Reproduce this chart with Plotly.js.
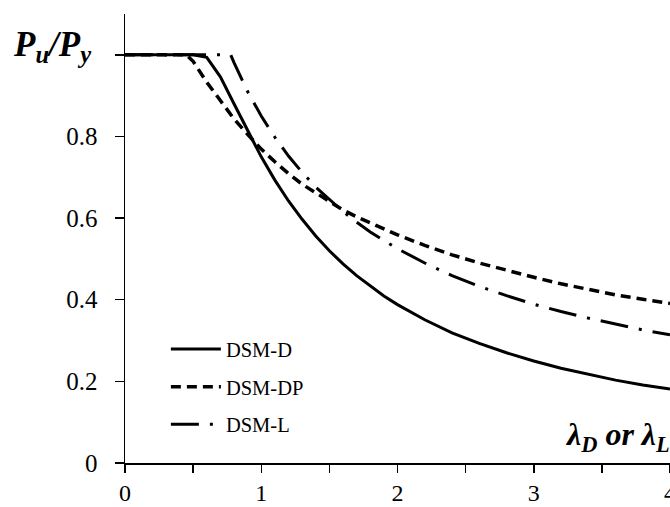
<!DOCTYPE html>
<html>
<head>
<meta charset="utf-8">
<script src="https://cdn.plot.ly/plotly-3.0.1.min.js"></script>
<style>html,body{margin:0;padding:0;background:#fff;}#chart{width:670px;height:507px;}</style>
</head>
<body>
<div id="chart"></div>
<script>
// Slenderness values and strength ratios
const lamD  = [0, 0.5, 0.6, 0.7, 0.8, 0.9, 1.0, 1.1, 1.2, 1.3, 1.4, 1.5, 1.6, 1.7, 1.8, 1.9, 2.0, 2.2, 2.4, 2.6, 2.8, 3.0, 3.2, 3.4, 3.6, 3.8, 4.0];
const dsmD  = [1, 1, 0.994, 0.946, 0.880, 0.813, 0.750, 0.693, 0.642, 0.597, 0.556, 0.520, 0.488, 0.459, 0.433, 0.409, 0.388, 0.351, 0.319, 0.293, 0.270, 0.250, 0.232, 0.217, 0.203, 0.191, 0.181];

const lamDP = [0, 0.45, 0.5, 0.6, 0.7, 0.8, 0.9, 1.0, 1.1, 1.2, 1.3, 1.4, 1.5, 1.6, 1.7, 1.8, 1.9, 2.0, 2.2, 2.4, 2.6, 2.8, 3.0, 3.2, 3.4, 3.6, 3.8, 4.0];
const dsmDP = [1, 1, 0.984, 0.933, 0.888, 0.843, 0.805, 0.769, 0.738, 0.709, 0.683, 0.662, 0.643, 0.620, 0.603, 0.588, 0.573, 0.559, 0.533, 0.510, 0.490, 0.472, 0.455, 0.439, 0.425, 0.412, 0.401, 0.391];

const lamL  = [0, 0.776, 0.8, 0.9, 1.0, 1.1, 1.2, 1.3, 1.4, 1.5, 1.6, 1.7, 1.8, 1.9, 2.0, 2.2, 2.4, 2.6, 2.8, 3.0, 3.2, 3.4, 3.6, 3.8, 4.0];
const dsmL  = [1, 1, 0.981, 0.910, 0.850, 0.798, 0.752, 0.712, 0.676, 0.645, 0.616, 0.590, 0.566, 0.545, 0.525, 0.490, 0.459, 0.433, 0.410, 0.389, 0.371, 0.355, 0.340, 0.326, 0.314];

const seriesNames = ['DSM-D', 'DSM-DP', 'DSM-L'];
const xTickVals = [0, 0.5, 1, 1.5, 2, 2.5, 3, 3.5, 4];
const xTickText = ['0', ' ', '1', ' ', '2', ' ', '3', ' ', '4'];
const yTickVals = [0, 0.2, 0.4, 0.6, 0.8, 1.0];
const yTickText = ['0', '0.2', '0.4', '0.6', '0.8', ' '];

const serif = 'Liberation Serif';

const traces = [
  {x: lamD, y: dsmD, name: seriesNames[0], mode: 'lines', legendgroup: 'a',
   line: {color: '#000', width: 3, dash: 'solid'}},
  {x: lamDP, y: dsmDP, name: seriesNames[1], mode: 'lines', legendgroup: 'b',
   line: {color: '#000', width: 3.5, dash: '10px,6px'}},
  {x: lamL, y: dsmL, name: seriesNames[2], mode: 'lines', legendgroup: 'c',
   line: {color: '#000', width: 3, dash: '28px,11px,3px,11px'}}
];

const layout = {
  width: 670, height: 507,
  margin: {l: 125, r: 0, t: 14, b: 44, pad: 0},
  paper_bgcolor: '#fff', plot_bgcolor: '#fff',
  font: {family: serif, color: '#000', size: 22},
  showlegend: true,
  legend: {
    x: 0.075, y: 0.298, xanchor: 'left', yanchor: 'top',
    bgcolor: 'rgba(0,0,0,0)', borderwidth: 0,
    font: {family: serif, size: 20.5, color: '#000'},
    itemwidth: 50, tracegroupgap: 8, traceorder: 'grouped'
  },
  xaxis: {
    range: [0, 4], showgrid: false, zeroline: false,
    showline: true, linecolor: '#000', linewidth: 1.5,
    ticks: 'outside', ticklen: 8, tickwidth: 1.5, tickcolor: '#000',
    tickvals: xTickVals, ticktext: xTickText,
    tickfont: {family: serif, size: 24, color: '#000'},
    ticklabelstandoff: 0, ticklabeloverflow: 'allow'
  },
  yaxis: {
    range: [0, 1.1], showgrid: false, zeroline: false,
    showline: true, linecolor: '#000', linewidth: 1.5,
    ticks: 'outside', ticklen: 9, tickwidth: 1.5, tickcolor: '#000',
    tickvals: yTickVals, ticktext: yTickText,
    tickfont: {family: serif, size: 25, color: '#000'},
    ticklabelstandoff: 12
  },
  annotations: [
    {xref: 'paper', yref: 'y', x: -0.21, y: 1.02, xanchor: 'left', yanchor: 'middle',
     text: '<b><i>P<sub>u</sub>/P<sub>y</sub></i></b>', showarrow: false,
     font: {family: serif, size: 35, color: '#000'}},
    {xref: 'paper', yref: 'y', x: 1.003, y: 0.065, xanchor: 'right', yanchor: 'middle',
     text: '<b><i>λ<sub>D</sub> or λ<sub>L</sub></i></b>', showarrow: false,
     font: {family: serif, size: 32, color: '#000'}}
  ]
};

Plotly.newPlot('chart', traces, layout, {displayModeBar: false, staticPlot: true});
</script>
</body>
</html>
